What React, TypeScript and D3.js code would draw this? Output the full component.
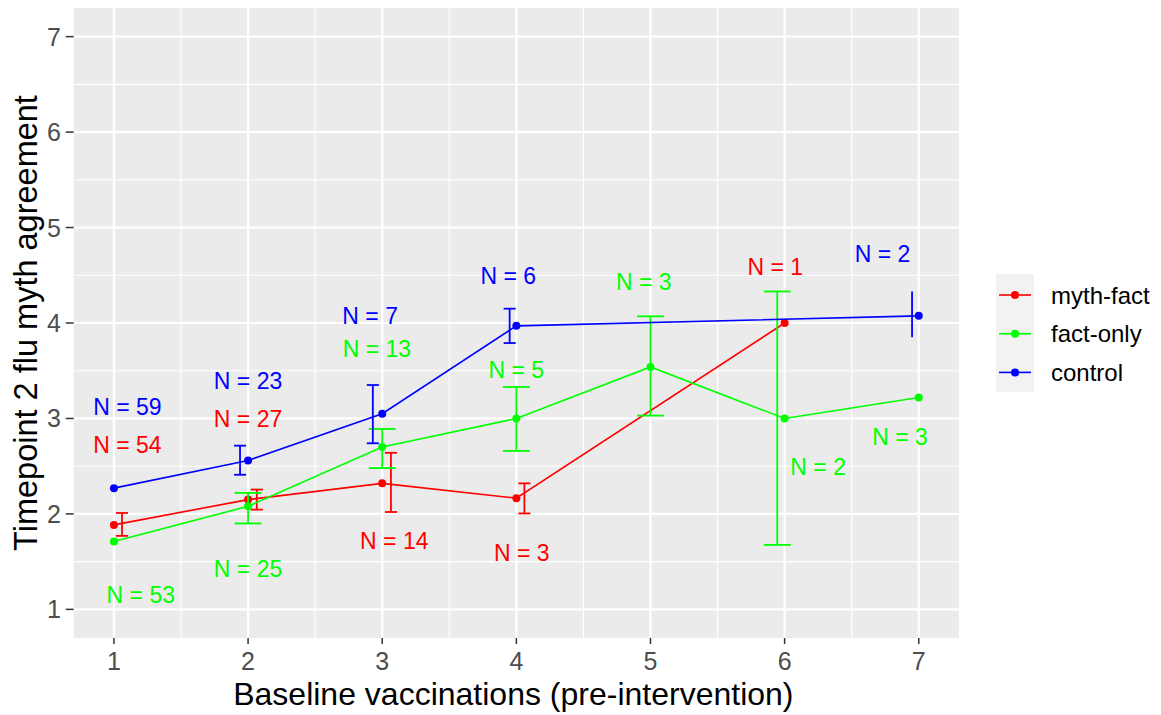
import React from "react";
import * as d3 from "d3";

const groups = ["myth-fact", "fact-only", "control"];
const colors = ["#FF0000", "#00FF00", "#0000FF"];

const mythX = [1, 2, 3, 4, 6];
const mythY = [1.885, 2.15, 2.32, 2.165, 4.0];
const mythLo = [1.77, 2.045, 2.02, 2.005, null];
const mythHi = [2.01, 2.255, 2.64, 2.32, null];
const mythDodge = [0.06, 0.065, 0.065, 0.06, 0];

const factX = [1, 2, 3, 4, 5, 6, 7];
const factY = [1.71, 2.08, 2.7, 3.0, 3.54, 3.0, 3.22];
const factLo = [null, 1.9, 2.48, 2.66, 3.03, 1.675, null];
const factHi = [null, 2.22, 2.89, 3.33, 4.07, 4.33, null];
const factDodge = [0, 0, 0, 0, 0, -0.055, 0];

const ctrlX = [1, 2, 3, 4, 7];
const ctrlY = [2.27, 2.56, 3.05, 3.97, 4.075];
const ctrlLo = [null, 2.41, 2.74, 3.79, 3.85];
const ctrlHi = [null, 2.715, 3.35, 4.15, 4.33];
const ctrlDodge = [0, -0.06, -0.07, -0.05, -0.05];
const ctrlCapW = [0, 0.045, 0.045, 0.045, 0];

const nLabels = [
  { text: "N = 59", x: 1.1, y: 3.12, g: 2 },
  { text: "N = 54", x: 1.1, y: 2.72, g: 0 },
  { text: "N = 53", x: 1.2, y: 1.15, g: 1 },
  { text: "N = 23", x: 2.0, y: 3.39, g: 2 },
  { text: "N = 27", x: 2.0, y: 2.99, g: 0 },
  { text: "N = 25", x: 2.0, y: 1.42, g: 1 },
  { text: "N = 7", x: 2.91, y: 4.07, g: 2 },
  { text: "N = 13", x: 2.96, y: 3.73, g: 1 },
  { text: "N = 14", x: 3.09, y: 1.72, g: 0 },
  { text: "N = 6", x: 3.94, y: 4.49, g: 2 },
  { text: "N = 5", x: 4.0, y: 3.51, g: 1 },
  { text: "N = 3", x: 4.04, y: 1.59, g: 0 },
  { text: "N = 3", x: 4.95, y: 4.43, g: 1 },
  { text: "N = 1", x: 5.93, y: 4.59, g: 0 },
  { text: "N = 2", x: 6.73, y: 4.72, g: 2 },
  { text: "N = 2", x: 6.25, y: 2.49, g: 1 },
  { text: "N = 3", x: 6.86, y: 2.81, g: 1 },
];

const xTicks = [1, 2, 3, 4, 5, 6, 7];
const yTicks = [1, 2, 3, 4, 5, 6, 7];

const series = [
  { xs: mythX, ys: mythY, lo: mythLo, hi: mythHi, dodge: mythDodge, cap: mythX.map(() => 0.045) },
  { xs: factX, ys: factY, lo: factLo, hi: factHi, dodge: factDodge, cap: factX.map(() => 0.1) },
  { xs: ctrlX, ys: ctrlY, lo: ctrlLo, hi: ctrlHi, dodge: ctrlDodge, cap: ctrlCapW },
];

export default function App() {
  const W = 1161, H = 715;
  const left = 73.7, right = 959, top = 8, bottom = 638;
  const x = d3.scaleLinear().domain([0.7, 7.3]).range([left, right]);
  const y = d3.scaleLinear().domain([0.7, 7.3]).range([bottom, top]);
  const font = "'Liberation Sans', Arial, sans-serif";
  const minorX = xTicks.slice(0, -1).map((t) => t + 0.5);
  const minorY = yTicks.slice(0, -1).map((t) => t + 0.5);
  const line = d3.line<[number, number]>().x((d) => x(d[0])).y((d) => y(d[1]));

  return (
    <svg width={W} height={H} style={{ position: "absolute", left: 0, top: 0, background: "#fff" }} fontFamily={font}>
      <rect x={left} y={top} width={right - left} height={bottom - top} fill="#EBEBEB" />
      {minorX.map((t) => (
        <line key={"mx" + t} x1={x(t)} x2={x(t)} y1={top} y2={bottom} stroke="#fff" strokeWidth={1.1} />
      ))}
      {minorY.map((t) => (
        <line key={"my" + t} y1={y(t)} y2={y(t)} x1={left} x2={right} stroke="#fff" strokeWidth={1.1} />
      ))}
      {xTicks.map((t) => (
        <line key={"gx" + t} x1={x(t)} x2={x(t)} y1={top} y2={bottom} stroke="#fff" strokeWidth={2.2} />
      ))}
      {yTicks.map((t) => (
        <line key={"gy" + t} y1={y(t)} y2={y(t)} x1={left} x2={right} stroke="#fff" strokeWidth={2.2} />
      ))}
      {xTicks.map((t) => (
        <g key={"xt" + t}>
          <line x1={x(t)} x2={x(t)} y1={bottom} y2={bottom + 6} stroke="#333" strokeWidth={1.5} />
          <text x={x(t)} y={670} textAnchor="middle" fontSize={25} fill="#4D4D4D">{t}</text>
        </g>
      ))}
      {yTicks.map((t) => (
        <g key={"yt" + t}>
          <line x1={left - 8} x2={left} y1={y(t)} y2={y(t)} stroke="#333" strokeWidth={1.5} />
          <text x={61} y={y(t) + 9} textAnchor="end" fontSize={25} fill="#4D4D4D">{t}</text>
        </g>
      ))}
      {series.map((s, gi) => (
        <g key={"s" + gi}>
          <path d={line(s.xs.map((v, i) => [v, s.ys[i]] as [number, number])) || ""} fill="none" stroke={colors[gi]} strokeWidth={1.6} />
          {s.xs.map((v, i) => {
            const lo = s.lo[i], hi = s.hi[i];
            if (lo == null || hi == null) return null;
            const ex = x(v + s.dodge[i]);
            const cw = x(s.cap[i]) - x(0);
            return (
              <g key={"e" + i} stroke={colors[gi]} strokeWidth={1.8}>
                <line x1={ex} x2={ex} y1={y(lo)} y2={y(hi)} />
                {cw > 0 && <line x1={ex - cw} x2={ex + cw} y1={y(lo)} y2={y(lo)} />}
                {cw > 0 && <line x1={ex - cw} x2={ex + cw} y1={y(hi)} y2={y(hi)} />}
              </g>
            );
          })}
          {s.xs.map((v, i) => (
            <circle key={"p" + i} cx={x(v)} cy={y(s.ys[i])} r={4} fill={colors[gi]} />
          ))}
        </g>
      ))}
      {nLabels.map((l, i) => (
        <text key={"n" + i} x={x(l.x)} y={y(l.y) + 8} textAnchor="middle" fontSize={23} fill={colors[l.g]}>{l.text}</text>
      ))}
      <text x={(left + right) / 2 - 3} y={705} textAnchor="middle" fontSize={32} fill="#000">Baseline vaccinations (pre-intervention)</text>
      <text transform={`translate(37, ${(top + bottom) / 2}) rotate(-90)`} textAnchor="middle" fontSize={32.5} fill="#000">Timepoint 2 flu myth agreement</text>
      <g>
        <rect x={996} y={274} width={38} height={118} fill="#F2F2F2" />
        {groups.map((g, i) => {
          const cy = 295 + i * 38.7;
          return (
            <g key={"lg" + g}>
              <line x1={999} x2={1031} y1={cy} y2={cy} stroke={colors[i]} strokeWidth={1.6} />
              <circle cx={1015} cy={cy} r={4} fill={colors[i]} />
              <text x={1051} y={cy + 8.5} fontSize={24} fill="#000">{g}</text>
            </g>
          );
        })}
      </g>
    </svg>
  );
}
